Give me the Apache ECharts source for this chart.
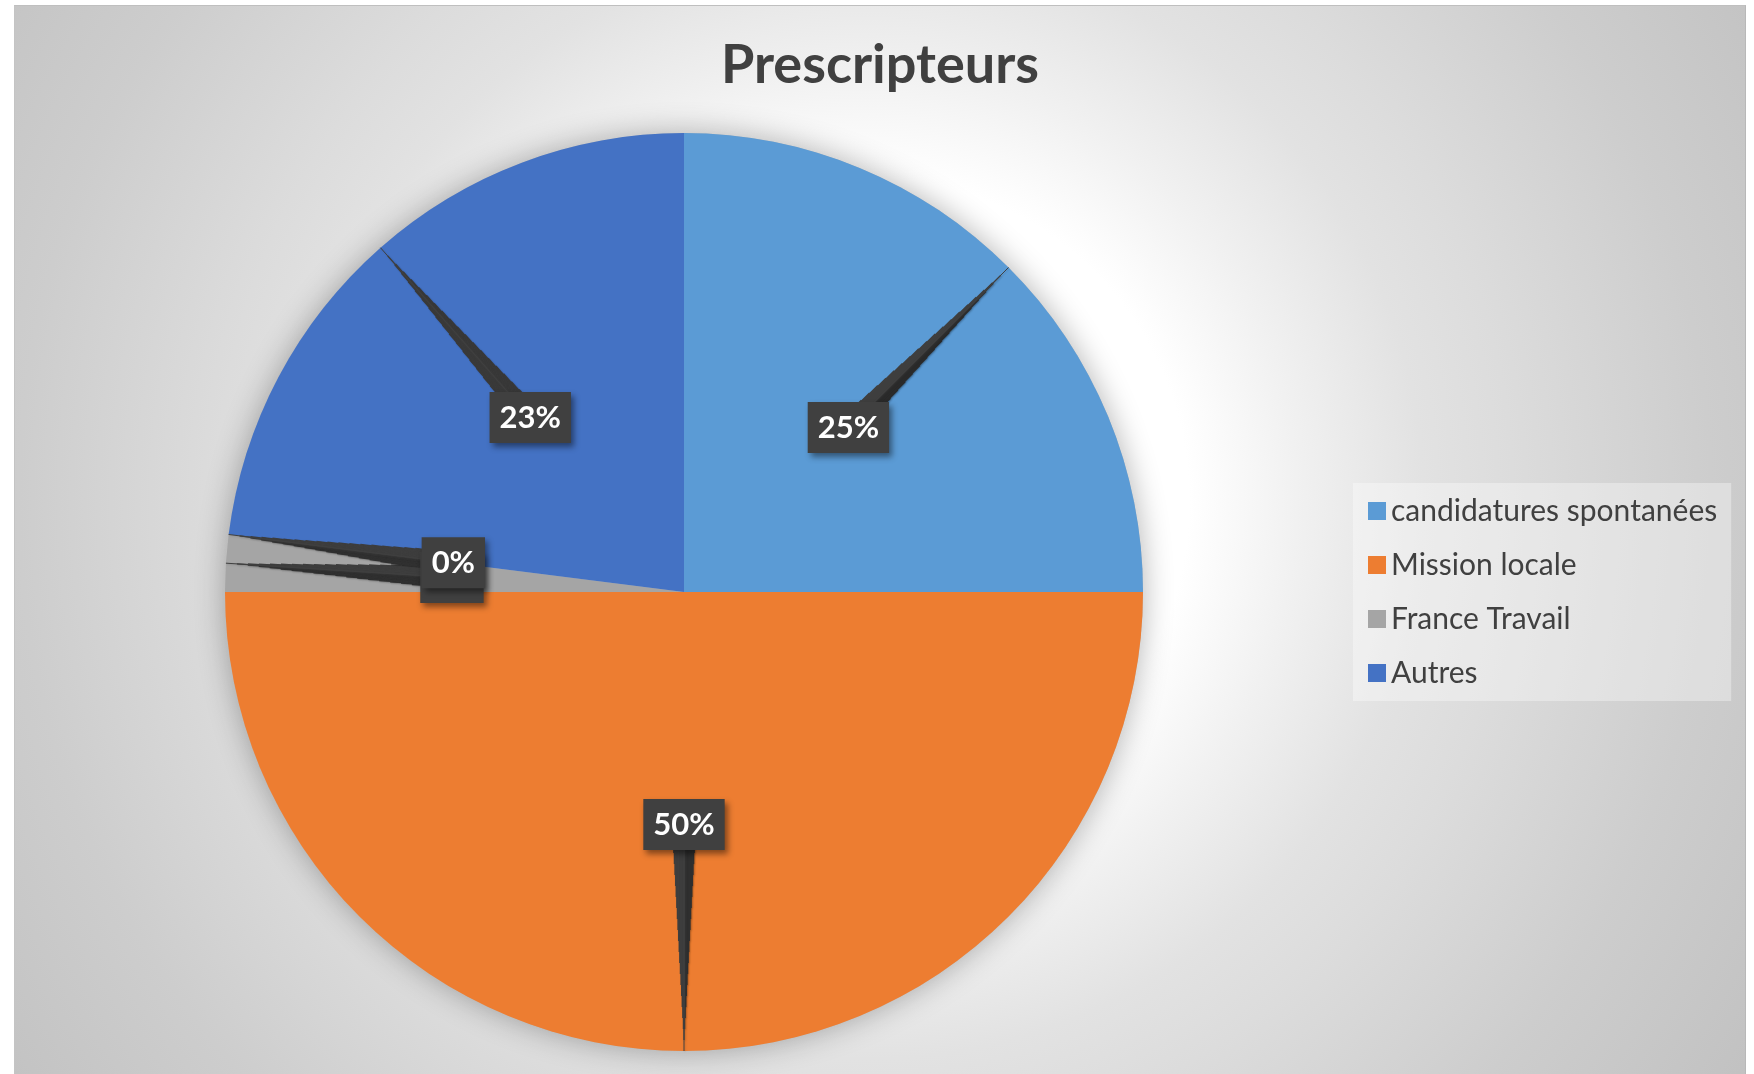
<!DOCTYPE html>
<html>
<head>
<meta charset="utf-8">
<title>Prescripteurs</title>
<script src="https://cdn.jsdelivr.net/npm/echarts@6/dist/echarts.min.js"></script>
<style>
    html, body { margin: 0; padding: 0; background: #fff; overflow: hidden; }
    #chart {
        position: absolute; left: 14px; top: 5px; width: 1732px; height: 1074px;
        box-sizing: border-box;
        border-top: 1px solid #bfbfbf; border-left: 1px solid #c4c4c4; border-right: 1px solid #b8b8b8;
        background: radial-gradient(circle 900px at 850px 495px,
            #ffffff 0%, #ffffff 36%, #f1f1f1 48%, #e2e2e2 62%, #dcdcdc 72%,
            #cdcdcd 94%, #cacaca 100%, #c1c1c1 118%);
    }
</style>
</head>
<body>
<div id="chart"></div>
<script>
// données (en %)
const categories = [ 'candidatures spontanées', 'Mission locale', 'France Travail', '(sans libellé)', 'Autres' ];
const values = [ 25, 50, 2, 0, 23 ];
// la catégorie vide n'apparaît pas dans la légende
const legendNames = [ 'candidatures spontanées', 'Mission locale', 'France Travail', 'Autres' ];
const palette = [ '#5B9BD5', '#ED7D31', '#A5A5A5', '#FFC000', '#4472C4' ];

const center = [ 669, 586 ];
const radius = 459;
const font = 'Lato';

let myChart = echarts.init(document.getElementById('chart'), null, { renderer: 'canvas' });

const pieData = (styled) => categories.map((name, i) => ({
    name: name,
    value: values[i],
    itemStyle: { color: styled ? palette[i] : 'rgba(0,0,0,0)' }
}));

// pointe des étiquettes : plusieurs traits superposés, du plus large au plus fin
function tailSeries(ring, width) {
    return {
        type: 'pie', z: 3, silent: true, center: center, radius: ring,
        avoidLabelOverlap: false, percentPrecision: 0,
        labelLayout: { hideOverlap: false },
        data: pieData(false),
        label: { show: true, position: 'outside', formatter: ' ', color: 'rgba(0,0,0,0)', fontSize: 1, distanceToLabelLine: 0 },
        labelLine: {
            show: true, length: radius / 2 - ring, length2: 0, smooth: false,
            minTurnAngle: 0, maxSurfaceAngle: 0,
            lineStyle: { color: '#404040', width: width, cap: 'butt', shadowBlur: 2, shadowColor: 'rgba(0,0,0,0.15)', shadowOffsetX: 1, shadowOffsetY: 1 }
        },
        emphasis: { disabled: true }
    };
}

const tails = [];
for (let ring = 250; ring <= radius; ring += 11) {
    tails.push(tailSeries(ring, Math.max(1, 24 * (radius - ring) / (radius - 240))));
}

myChart.setOption({
    animation: false,
    title: {
        text: 'Prescripteurs', left: 'center', top: 28,
        textStyle: { fontFamily: font, fontWeight: 'bold', fontSize: 54, color: '#404040' }
    },
    legend: {
        data: legendNames, orient: 'vertical', left: 1338, top: 477,
        padding: [ 13, 14, 13, 15 ], itemGap: 24, itemWidth: 18, itemHeight: 18, icon: 'rect',
        backgroundColor: 'rgba(255,255,255,0.35)', selectedMode: false,
        textStyle: { fontFamily: font, fontSize: 30, lineHeight: 30, color: '#404040' }
    },
    series: [
        {
            // fond avec ombre
            type: 'pie', z: 1, silent: true, center: center, radius: radius,
            data: [ { value: values.reduce((a, b) => a + b, 0), itemStyle: { color: '#bbbbbb', shadowBlur: 30, shadowColor: 'rgba(0,0,0,0.3)' } } ],
            label: { show: false }, labelLine: { show: false }
        },
        {
            type: 'pie', z: 2, silent: true, center: center, radius: radius,
            data: pieData(true),
            label: { show: false }, labelLine: { show: false },
            emphasis: { disabled: true }
        },
        ...tails,
        {
            type: 'pie', z: 4, silent: true, center: center, radius: radius, percentPrecision: 0,
            labelLayout: { hideOverlap: false },
            data: pieData(false),
            label: {
                show: true, position: 'inside', formatter: '{d}%',
                color: '#fff', fontFamily: font, fontWeight: 'bold', fontSize: 31, lineHeight: 31,
                backgroundColor: '#404040', padding: [ 10, 10 ],
                shadowBlur: 6, shadowOffsetX: 3, shadowOffsetY: 4, shadowColor: 'rgba(0,0,0,0.45)'
            },
            labelLine: { show: false },
            emphasis: { disabled: true }
        }
    ]
});
window.addEventListener('resize', function () {
    myChart.resize();
});
</script>
</body>
</html>
